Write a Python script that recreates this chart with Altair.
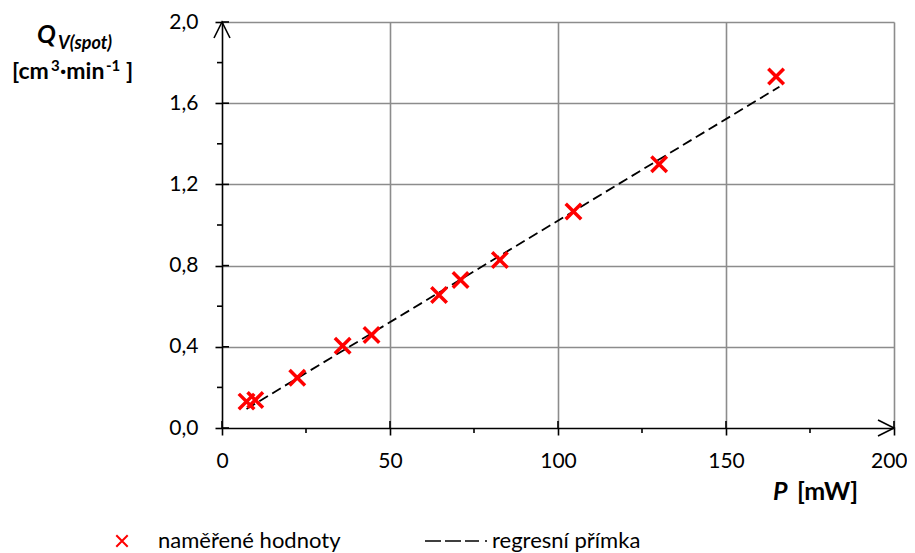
import altair as alt
import pandas as pd

# measured values
p_mw = [7.3, 9.9, 22.4, 35.9, 44.5, 64.6, 71.0, 82.7, 104.6, 130.1, 164.9]
q_v = [0.130, 0.138, 0.248, 0.405, 0.458, 0.655, 0.729, 0.828, 1.066, 1.299, 1.731]
# regression line end points
reg_p = [7.3, 165.9]
reg_q = [0.094, 1.681]
# axes
x_ticks = [0, 50, 100, 150, 200]
y_ticks = [0.0, 0.4, 0.8, 1.2, 1.6, 2.0]
x_minor = [25, 75, 125, 175]
y_minor = [0.2, 0.6, 1.0, 1.4, 1.8]

W, H = 672, 406
FONT = "Lato"

xs = alt.Scale(domain=[0, 200], nice=False, zero=False)
ys = alt.Scale(domain=[0, 2.0], nice=False, zero=False)

pts = pd.DataFrame({"P": p_mw, "Q": q_v})
reg = pd.DataFrame({"P": reg_p, "Q": reg_q})

grid_op = {"condition": {"test": "datum.value === 0", "value": 0}, "value": 1}
last_x = "datum.value === %d" % x_ticks[-1]

x_axis = alt.Axis(values=x_ticks, grid=True, gridColor="#8c8c8c", gridWidth=1.6,
                  gridOpacity=grid_op, domainColor="black", domainWidth=1.6,
                  tickColor="black", tickSize=7, tickWidth=1.6,
                  labelFont=FONT, labelFontSize=21, labelColor="black",
                  labelAlign={"condition": {"test": last_x, "value": "right"}, "value": "center"},
                  labelOffset={"condition": {"test": last_x, "value": 13}, "value": 0},
                  labelPadding=15, labelFlush=False, labelOverlap=False, title=None)
y_axis = alt.Axis(values=y_ticks, grid=True, gridColor="#8c8c8c", gridWidth=1.6,
                  gridOpacity=grid_op, domainColor="black", domainWidth=1.6,
                  tickColor="black", tickSize=7, tickWidth=1.6,
                  labelFont=FONT, labelFontSize=21, labelColor="black",
                  labelPadding=17, labelFlush=False, labelOverlap=False,
                  format=".1f", labelExpr="replace(datum.label, '.', ',')", title=None)

X_SHAPE = "M-1,-1L1,1M1,-1L-1,1"

points = alt.Chart(pts).mark_point(shape=X_SHAPE, size=240, strokeWidth=3.5,
                                   color="#ff0000", filled=False, opacity=1).encode(
    x=alt.X("P:Q", scale=xs, axis=x_axis),
    y=alt.Y("Q:Q", scale=ys, axis=y_axis),
)

line = alt.Chart(reg).mark_line(color="black", strokeWidth=1.8, strokeDash=[10, 5]).encode(
    x=alt.X("P:Q", scale=xs),
    y=alt.Y("Q:Q", scale=ys),
)

# tick decorations (inner halves of major ticks, minor ticks)
yt = alt.Chart(pd.DataFrame({"v": y_ticks})).mark_rule(color="black", strokeWidth=1.6).encode(
    y=alt.Y("v:Q", scale=ys), x=alt.value(0), x2=alt.value(7))
xt = alt.Chart(pd.DataFrame({"v": x_ticks})).mark_rule(color="black", strokeWidth=1.6).encode(
    x=alt.X("v:Q", scale=xs), y=alt.value(H - 7), y2=alt.value(H))
ym = alt.Chart(pd.DataFrame({"v": y_minor})).mark_rule(color="black", strokeWidth=1.6).encode(
    y=alt.Y("v:Q", scale=ys), x=alt.value(-5), x2=alt.value(0))
xm = alt.Chart(pd.DataFrame({"v": x_minor})).mark_rule(color="black", strokeWidth=1.6).encode(
    x=alt.X("v:Q", scale=xs), y=alt.value(H), y2=alt.value(H + 5))

# axis arrows
arr_up = alt.Chart(pd.DataFrame({"P": [x_ticks[0]], "Q": [y_ticks[-1]]})).mark_point(
    shape="M-0.5,1L0,0L0.5,1", size=1024, color="black", strokeWidth=1.6, filled=False, opacity=1
).encode(x=alt.X("P:Q", scale=xs), y=alt.Y("Q:Q", scale=ys))
arr_right = alt.Chart(pd.DataFrame({"P": [x_ticks[-1]], "Q": [y_ticks[0]]})).mark_point(
    shape="M-1,-0.5L0,0L-1,0.5", size=1024, color="black", strokeWidth=1.6, filled=False, opacity=1
).encode(x=alt.X("P:Q", scale=xs), y=alt.Y("Q:Q", scale=ys))


def txt(s, x, y, size, bold=True, italic=False, align="left", baseline="alphabetic"):
    return alt.Chart(pd.DataFrame({"t": [s]})).mark_text(
        font=FONT, fontSize=size, fontWeight="bold" if bold else "normal",
        fontStyle="italic" if italic else "normal", align=align, baseline=baseline,
        color="black").encode(text="t:N", x=alt.value(x), y=alt.value(y))


# chart origin is at page (222, 22)
titles = [
    txt("Q", -185, 21, 25, italic=True),
    txt("V(spot)", -164, 27, 18, italic=True),
    txt("[cm", -210, 57, 23),
    txt("3", -171, 49, 15),
    txt("·min", -162, 57, 23),
    txt("-1", -116, 49, 15),
    txt("]", -96, 57, 23),
    txt("P", 551, 478, 25, italic=True),
    txt("[mW]", 575, 478, 25),
]

leg_x = alt.Chart(pd.DataFrame({"a": [1]})).mark_point(
    shape=X_SHAPE, size=130, strokeWidth=2, color="#ff0000", filled=False, opacity=1
).encode(x=alt.value(-100), y=alt.value(519))
leg_line = alt.Chart(pd.DataFrame({"a": [1]})).mark_rule(
    color="black", strokeWidth=1.6, strokeDash=[16, 4, 16, 4, 14, 6, 2, 60]
).encode(x=alt.value(203), x2=alt.value(267), y=alt.value(519))
legend = [
    leg_x,
    txt("naměřené hodnoty", -64, 526, 22, bold=False),
    leg_line,
    txt("regresní přímka", 270, 526, 22, bold=False),
]

chart = alt.layer(line, points, yt, xt, ym, xm, arr_up, arr_right, *titles, *legend).properties(
    width=W, height=H,
    autosize=alt.AutoSizeParams(type="none"),
    padding={"left": 214, "top": 14, "right": 13, "bottom": 125},
).configure_view(stroke=None)

chart.save("out.html", embed_options={"renderer": "svg", "actions": False})
